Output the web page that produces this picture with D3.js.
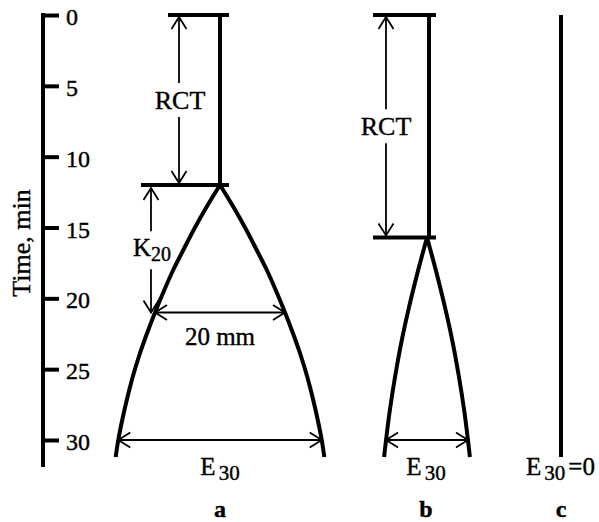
<!DOCTYPE html>
<html>
<head>
<meta charset="utf-8">
<script src="https://cdn.jsdelivr.net/npm/d3@7"></script>
<style>
  body { margin: 0; background: #fff; }
  svg { display: block; }
</style>
</head>
<body>
<script>
// Thromboelastogram traces: (a) normal, (b) prolonged reaction time, (c) no clot.
const panels = ["a", "b", "c"];
const timeTicks = [0, 5, 10, 15, 20, 25, 30];
const rctMinutes = [12, 15.7];          // reaction time for traces a and b
const k20Minutes = 21;                  // time at which trace a reaches 20 mm
const k20Amplitude = 20;                // mm
const traceATime  = [12, 13.5, 15, 16.5, 18, 19.5, 21, 22.5, 24, 25.5, 27, 28.5, 30, 31.2];
const traceAWidth = [0, 4.0, 7.7, 11.1, 14.4, 17.3, 20, 22.5, 24.8, 26.8, 28.5, 30.0, 31.3, 32.1];
const traceBTime  = [15.7, 18, 20.5, 23, 25.5, 28, 30, 31.2];
const traceBWidth = [0, 2.7, 5.4, 7.8, 9.8, 11.5, 12.6, 13.2];
const e30Width = [31.3, 12.6, 0];       // amplitude at 30 min, mm
const e30Time = 30;

const FONT = '"Liberation Serif", "DejaVu Serif", serif';
const W = 599, H = 522;
const svg = d3.select("body").append("svg").attr("width", W).attr("height", H);

const y = d3.scaleLinear().domain([0, 30]).range([15, 440]);
const mm = d3.scaleLinear().domain([0, 1]).range([0, 6.5]);
const centers = { a: 220, b: 427, c: 561 };
const axisX = 43;
const axisEnd = 31.9;

const thick = 4, thin = 1.8;

// ---- time axis ----
svg.append("line")
  .attr("x1", axisX).attr("x2", axisX)
  .attr("y1", y(0) - 2).attr("y2", y(axisEnd))
  .attr("stroke", "#000").attr("stroke-width", thick);

const axisG = svg.append("g")
  .attr("transform", `translate(${axisX},0)`)
  .call(d3.axisRight(y).tickValues(timeTicks).tickSize(16).tickPadding(7));
axisG.attr("font-family", null).attr("font-size", null);
axisG.select(".domain").remove();
axisG.selectAll(".tick line").attr("stroke", "#000").attr("stroke-width", thick);
axisG.selectAll(".tick text")
  .attr("font-size", 24).attr("dy", "0.4em");

svg.append("text")
  .attr("transform", `translate(30,${(y(0) + y(axisEnd)) / 2 + 2}) rotate(-90)`)
  .attr("text-anchor", "middle")
  .attr("font-size", 26)
  .text("Time, min");

// ---- helpers ----
function arrowHead(g, tipX, tipY, fromX, fromY) {
  const dx = tipX - fromX, dy = tipY - fromY;
  const len = Math.hypot(dx, dy) || 1;
  const ux = dx / len, uy = dy / len;
  const L = 12, Wd = 7.5;
  const bx = tipX - ux * L, by = tipY - uy * L;
  g.append("path")
    .attr("d", `M${bx - uy * Wd},${by + ux * Wd}L${tipX},${tipY}L${bx + uy * Wd},${by - ux * Wd}`)
    .attr("fill", "none").attr("stroke", "#000").attr("stroke-width", thin)
    .attr("stroke-linejoin", "miter");
}
function segment(g, x1, y1, x2, y2) {
  g.append("line").attr("x1", x1).attr("y1", y1).attr("x2", x2).attr("y2", y2)
    .attr("stroke", "#000").attr("stroke-width", thin);
}
// vertical double arrow with a gap around a label
function gappedArrow(g, x, yTop, yBot, gapHalf) {
  const mid = (yTop + yBot) / 2;
  segment(g, x, yTop, x, mid - gapHalf);
  segment(g, x, mid + gapHalf, x, yBot);
  arrowHead(g, x, yTop, x, yTop + 20);
  arrowHead(g, x, yBot, x, yBot - 20);
}
function hArrow(g, x1, x2, yy) {
  segment(g, x1, yy, x2, yy);
  arrowHead(g, x1, yy, x1 + 20, yy);
  arrowHead(g, x2, yy, x2 - 20, yy);
}
function hBar(g, x1, x2, yy) {
  g.append("line").attr("x1", x1).attr("x2", x2).attr("y1", yy).attr("y2", yy)
    .attr("stroke", "#000").attr("stroke-width", thick);
}
function stem(g, x, t0, t1) {
  g.append("line").attr("x1", x).attr("x2", x).attr("y1", y(t0)).attr("y2", y(t1))
    .attr("stroke", "#000").attr("stroke-width", thick);
}
function trace(g, cx, times, widths) {
  const line = d3.line().curve(d3.curveCatmullRom.alpha(0.5));
  [-1, 1].forEach(s => {
    const pts = times.map((t, i) => [cx + s * mm(widths[i] / 2), y(t)]);
    g.append("path").attr("d", line(pts))
      .attr("fill", "none").attr("stroke", "#000").attr("stroke-width", thick)
      .attr("stroke-linecap", "butt");
  });
}
function e30Label(g, x, anchor, suffix) {
  const t = g.append("text").attr("x", x).attr("y", 475)
    .attr("text-anchor", anchor).attr("font-size", 25);
  t.append("tspan").text("E");
  t.append("tspan").attr("dx", 3).attr("dy", 5).attr("font-size", 21).text("30");
  if (suffix) t.append("tspan").attr("dx", 3).attr("dy", -5).text(suffix);
}
function panelLabel(g, x, txt) {
  g.append("text").attr("x", x).attr("y", 517).attr("text-anchor", "middle")
    .attr("font-size", 24).attr("font-weight", "bold").text(txt);
}

// ---- trace a ----
{
  const g = svg.append("g");
  const cx = centers.a, r = rctMinutes[0];
  trace(g, cx, traceATime, traceAWidth);
  stem(g, cx, 0, r);
  hBar(g, cx - 52, cx + 9, y(0));
  hBar(g, cx - 79, cx + 9, y(r));

  const rx = cx - 41;
  gappedArrow(g, rx, y(0) + 2, y(r) - 2, 17);
  g.append("text").attr("x", rx + 1).attr("y", (y(0) + y(r)) / 2 + 9)
    .attr("text-anchor", "middle").attr("font-size", 26).text("RCT");

  const kx = cx - 69;
  gappedArrow(g, kx, y(r) + 3, y(k20Minutes), 19);
  const kt = g.append("text").attr("x", kx + 1).attr("y", (y(r) + y(k20Minutes)) / 2 + 7)
    .attr("text-anchor", "middle").attr("font-size", 25);
  kt.append("tspan").text("K");
  kt.append("tspan").attr("dy", 5).attr("font-size", 20).text("20");

  hArrow(g, cx - mm(k20Amplitude / 2), cx + mm(k20Amplitude / 2), y(k20Minutes));
  g.append("text").attr("x", cx).attr("y", 345).attr("text-anchor", "middle")
    .attr("font-size", 25).text(k20Amplitude + " mm");

  hArrow(g, cx - mm(e30Width[0] / 2), cx + mm(e30Width[0] / 2), y(e30Time));
  e30Label(g, cx, "middle");
  panelLabel(g, cx, panels[0]);
}

// ---- trace b ----
{
  const g = svg.append("g");
  const cx = centers.b, sx = cx + 2, r = rctMinutes[1];
  trace(g, cx, traceBTime, traceBWidth);
  stem(g, sx, 0, r);
  hBar(g, sx - 56, sx + 7, y(0));
  hBar(g, sx - 56, sx + 7, y(r));

  const rx = sx - 43;
  gappedArrow(g, rx, y(0) + 2, y(r) - 2, 17);
  g.append("text").attr("x", rx).attr("y", (y(0) + y(r)) / 2 + 9)
    .attr("text-anchor", "middle").attr("font-size", 26).text("RCT");

  hArrow(g, cx - mm(e30Width[1] / 2), cx + mm(e30Width[1] / 2), y(e30Time));
  e30Label(g, cx - 1, "middle");
  panelLabel(g, cx - 1, panels[1]);
}

// ---- trace c ----
{
  const g = svg.append("g");
  const cx = centers.c;
  stem(g, cx, 0, traceATime[traceATime.length - 1]);
  e30Label(g, 526, "start", "=" + e30Width[2]);
  panelLabel(g, cx, panels[2]);
}

// one serif face for every label, slightly heavier strokes
svg.selectAll("text")
  .style("font-family", FONT)
  .attr("fill", "#000")
  .attr("stroke", "#000")
  .attr("stroke-width", 0.4);
</script>
</body>
</html>
